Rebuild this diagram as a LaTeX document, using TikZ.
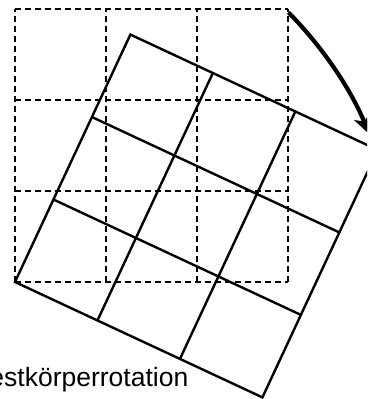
\documentclass[tikz,border=0pt]{standalone}
\usepackage{fontspec}
\setmainfont{Liberation Sans}
\usetikzlibrary{arrows.meta}
\tikzset{
  oldgrid/.style={line width=1.8pt, dash pattern=on 6pt off 4pt, black},
  newgrid/.style={line width=2.4pt, black, line cap=round, line join=miter},
  rotarrow/.style={line width=4.2pt, -{Stealth[length=19pt,width=17pt,inset=5pt]}},
  label/.style={font=\fontsize{26.5}{30}\selectfont, inner sep=0pt, anchor=base east}
}
\begin{document}
\begin{tikzpicture}[x=1pt,y=1pt]
\useasboundingbox (0,0) rectangle (367,399);
\clip (0,0) rectangle (367,399);
\coordinate (O) at (15,117);
% original (dashed) grid
\begin{scope}[shift={(O)}]
  \foreach \i in {0,91,182,273} {
    \draw[oldgrid] (\i,0) -- (\i,273);
    \draw[oldgrid] (0,\i) -- (273,\i);
  }
\end{scope}
% rotated grid
\begin{scope}[shift={(O)}, rotate=-25]
  \draw[newgrid] (0,0) rectangle (273,273);
  \foreach \i in {91,182} {
    \draw[newgrid] (\i,0) -- (\i,273);
    \draw[newgrid] (0,\i) -- (273,\i);
  }
\end{scope}
% rotation arrow
\draw[rotarrow] (O) ++(44.6:384) arc[start angle=44.6, end angle=22.6, radius=384pt];
\node[label] (lbl) at (188.5,12.5) {Festkörperrotation};
\end{tikzpicture}
\end{document}
